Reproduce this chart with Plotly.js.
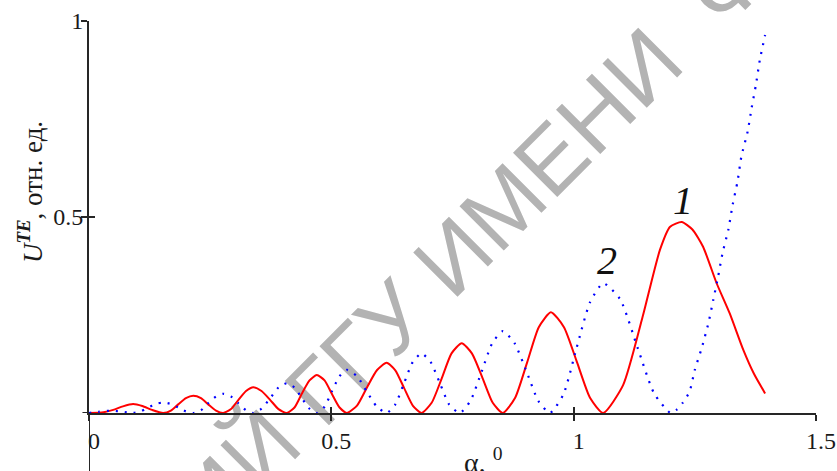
<!DOCTYPE html>
<html>
<head>
<meta charset="utf-8">
<script src="https://cdn.plot.ly/plotly-3.0.1.min.js"></script>
<style>html,body{margin:0;padding:0;background:#fff;}#chart{width:837px;height:471px;}</style>
</head>
<body>
<div id="chart"></div>
<script>
// Curve 1 (red, solid)
var redX = [0, 0.03, 0.05, 0.07, 0.091, 0.11, 0.13, 0.153,
  0.169, 0.184, 0.200, 0.215, 0.231, 0.246, 0.262, 0.277,
  0.293, 0.308, 0.324, 0.339, 0.356, 0.374, 0.391, 0.408,
  0.424, 0.439, 0.455, 0.470, 0.486, 0.501, 0.517, 0.532,
  0.553, 0.573, 0.594, 0.614, 0.632, 0.650, 0.668, 0.686,
  0.707, 0.728, 0.748, 0.769, 0.790, 0.812, 0.833, 0.854,
  0.879, 0.904, 0.928, 0.953, 0.980, 1.007, 1.034, 1.061,
  1.102, 1.142, 1.178, 1.199, 1.223, 1.245, 1.267, 1.295, 1.322, 1.350, 1.372, 1.395];
var redY = [0, 0.002, 0.008, 0.017, 0.023, 0.018, 0.008, 0,
  0.006, 0.022, 0.038, 0.044, 0.038, 0.022, 0.006, 0,
  0.010, 0.033, 0.056, 0.066, 0.056, 0.033, 0.010, 0,
  0.014, 0.049, 0.083, 0.097, 0.083, 0.049, 0.014, 0,
  0.019, 0.064, 0.109, 0.128, 0.109, 0.064, 0.019, 0,
  0.026, 0.089, 0.152, 0.178, 0.152, 0.089, 0.026, 0,
  0.038, 0.129, 0.219, 0.257, 0.219, 0.129, 0.038, 0,
  0.071, 0.244, 0.416, 0.475, 0.487, 0.468, 0.424, 0.331, 0.254, 0.161, 0.100, 0.050];

// Curve 2 (blue, dotted)
var blueX = [0, 0.02, 0.045, 0.07, 0.091,
  0.107, 0.122, 0.138, 0.153, 0.169, 0.184, 0.200, 0.215,
  0.231, 0.246, 0.262, 0.277, 0.293, 0.308, 0.324, 0.339,
  0.356, 0.374, 0.391, 0.408, 0.424, 0.439, 0.455, 0.470,
  0.486, 0.501, 0.517, 0.532, 0.553, 0.573, 0.594, 0.614,
  0.632, 0.650, 0.668, 0.686, 0.705, 0.724, 0.743, 0.765,
  0.787, 0.810, 0.832, 0.854, 0.878, 0.903, 0.927, 0.951,
  0.979, 1.006, 1.034, 1.061, 1.096, 1.132, 1.166, 1.200,
  1.212, 1.225, 1.239, 1.250, 1.264, 1.278, 1.288, 1.298, 1.307, 1.319,
  1.328, 1.338, 1.346, 1.359, 1.367, 1.376, 1.384, 1.395];
var blueY = [0, 0.003, 0.006, 0.003, 0,
  0.004, 0.014, 0.023, 0.027, 0.023, 0.014, 0.004, 0,
  0.007, 0.025, 0.042, 0.049, 0.042, 0.025, 0.007, 0,
  0.011, 0.038, 0.065, 0.076, 0.065, 0.038, 0.011, 0,
  0.016, 0.055, 0.094, 0.110, 0.094, 0.055, 0.016, 0,
  0.022, 0.076, 0.130, 0.152, 0.130, 0.076, 0.022, 0,
  0.031, 0.105, 0.178, 0.209, 0.178, 0.105, 0.031, 0,
  0.048, 0.166, 0.283, 0.331, 0.290, 0.166, 0.050, 0,
  0.008, 0.026, 0.054, 0.110, 0.165, 0.229, 0.288, 0.348, 0.407, 0.467,
  0.531, 0.590, 0.654, 0.718, 0.777, 0.837, 0.900, 0.964];

var xTickVals = [0, 0.5, 1, 1.5];
var xTickText = ['0', '0.5', '1', '1.5'];
var yTickVals = [0.5, 1];
var yTickText = ['0.5', '1'];
var curveLabels = ['1', '2'];
var yTitle = '<i>U</i><sup><b><i>TE</i></b></sup>, отн. ед.';
var xTitle = 'α, <sup>0</sup>';
var watermark = 'РЕПОЗИТОРИЙ ГГУ ИМЕНИ\u00A0\u00A0Ф. СКОРИНЫ';

var axisColor = '#262626';
var tickFont = {family: 'Liberation Serif', size: 24, color: '#1a1a1a'};

var traces = [
  {x: redX, y: redY, type: 'scatter', mode: 'lines',
   line: {color: '#ff0000', width: 2, shape: 'spline', smoothing: 0.6}, hoverinfo: 'skip'},
  {x: blueX, y: blueY, type: 'scatter', mode: 'lines',
   line: {color: '#0000ff', width: 2.2, dash: '2px,7px', shape: 'spline', smoothing: 0.6}, hoverinfo: 'skip'},
  {x: [], y: [], xaxis: 'x2', yaxis: 'y2', type: 'scatter', mode: 'lines', showlegend: false}
];

var layout = {
  width: 837, height: 471,
  margin: {l: 89, r: 21, t: 21, b: 58, pad: 0},
  paper_bgcolor: '#fff', plot_bgcolor: 'rgba(0,0,0,0)',
  showlegend: false,
  xaxis: {range: [0, 1.5], tickmode: 'array', tickvals: xTickVals, ticktext: xTickText,
    showline: true, linecolor: axisColor, linewidth: 2, ticks: 'outside', ticklen: 6,
    tickwidth: 2, tickcolor: axisColor, showgrid: false, zeroline: false,
    tickfont: tickFont, ticklabelshift: 5, ticklabelstandoff: -1},
  yaxis: {range: [0, 1], tickmode: 'array', tickvals: yTickVals, ticktext: yTickText,
    showline: true, linecolor: axisColor, linewidth: 2, ticks: 'outside', ticklen: 6,
    tickwidth: 2, tickcolor: axisColor, showgrid: false, zeroline: false,
    tickfont: tickFont, ticklabelstandoff: -7},
  xaxis2: {overlaying: 'x', anchor: 'y2', range: [0, 1.5], tickmode: 'array', tickvals: xTickVals,
    ticks: 'inside', ticklen: 6, tickwidth: 2, tickcolor: axisColor, showticklabels: false,
    showline: false, showgrid: false, zeroline: false},
  yaxis2: {overlaying: 'y', anchor: 'x2', range: [0, 1], tickmode: 'array', tickvals: yTickVals,
    ticks: 'inside', ticklen: 6, tickwidth: 2, tickcolor: axisColor, showticklabels: false,
    showline: false, showgrid: false, zeroline: false},
  shapes: [
    {type: 'rect', xref: 'paper', yref: 'paper', x0: 0.482, x1: 0.502, y0: 0.405, y1: 0.425,
     layer: 'below', line: {width: 0}, fillcolor: 'rgba(0,0,0,0)',
     label: {text: watermark, textangle: -45, textposition: 'middle center',
       font: {family: 'Liberation Sans', size: 91, color: '#b3b3b3'}}},
    {type: 'line', xref: 'x', yref: 'paper', x0: 0, x1: 0, y0: 0, y1: -0.16,
     line: {color: axisColor, width: 2}},
    {type: 'line', xref: 'paper', yref: 'y', x0: -0.009, x1: 0, y0: 0, y1: 0,
     line: {color: axisColor, width: 2}}
  ],
  annotations: [
    {text: '<i>' + curveLabels[0] + '</i>', x: 1.225, y: 0.541, xref: 'x', yref: 'y', showarrow: false,
     font: {family: 'Liberation Serif', size: 40, color: '#111'}, xanchor: 'center', yanchor: 'middle'},
    {text: '<i>' + curveLabels[1] + '</i>', x: 1.069, y: 0.388, xref: 'x', yref: 'y', showarrow: false,
     font: {family: 'Liberation Serif', size: 40, color: '#111'}, xanchor: 'center', yanchor: 'middle'},
    {text: yTitle, x: -0.081, y: 0.564, xref: 'paper', yref: 'paper', showarrow: false, textangle: -90,
     font: {family: 'Liberation Serif', size: 27, color: '#1a1a1a'}, xanchor: 'center', yanchor: 'middle'},
    {text: xTitle, x: 0.542, y: -0.122, xref: 'paper', yref: 'paper', showarrow: false,
     font: {family: 'Liberation Serif', size: 28, color: '#1a1a1a'}, xanchor: 'center', yanchor: 'middle'}
  ]
};

Plotly.newPlot('chart', traces, layout, {staticPlot: true, displayModeBar: false});
</script>
</body>
</html>
